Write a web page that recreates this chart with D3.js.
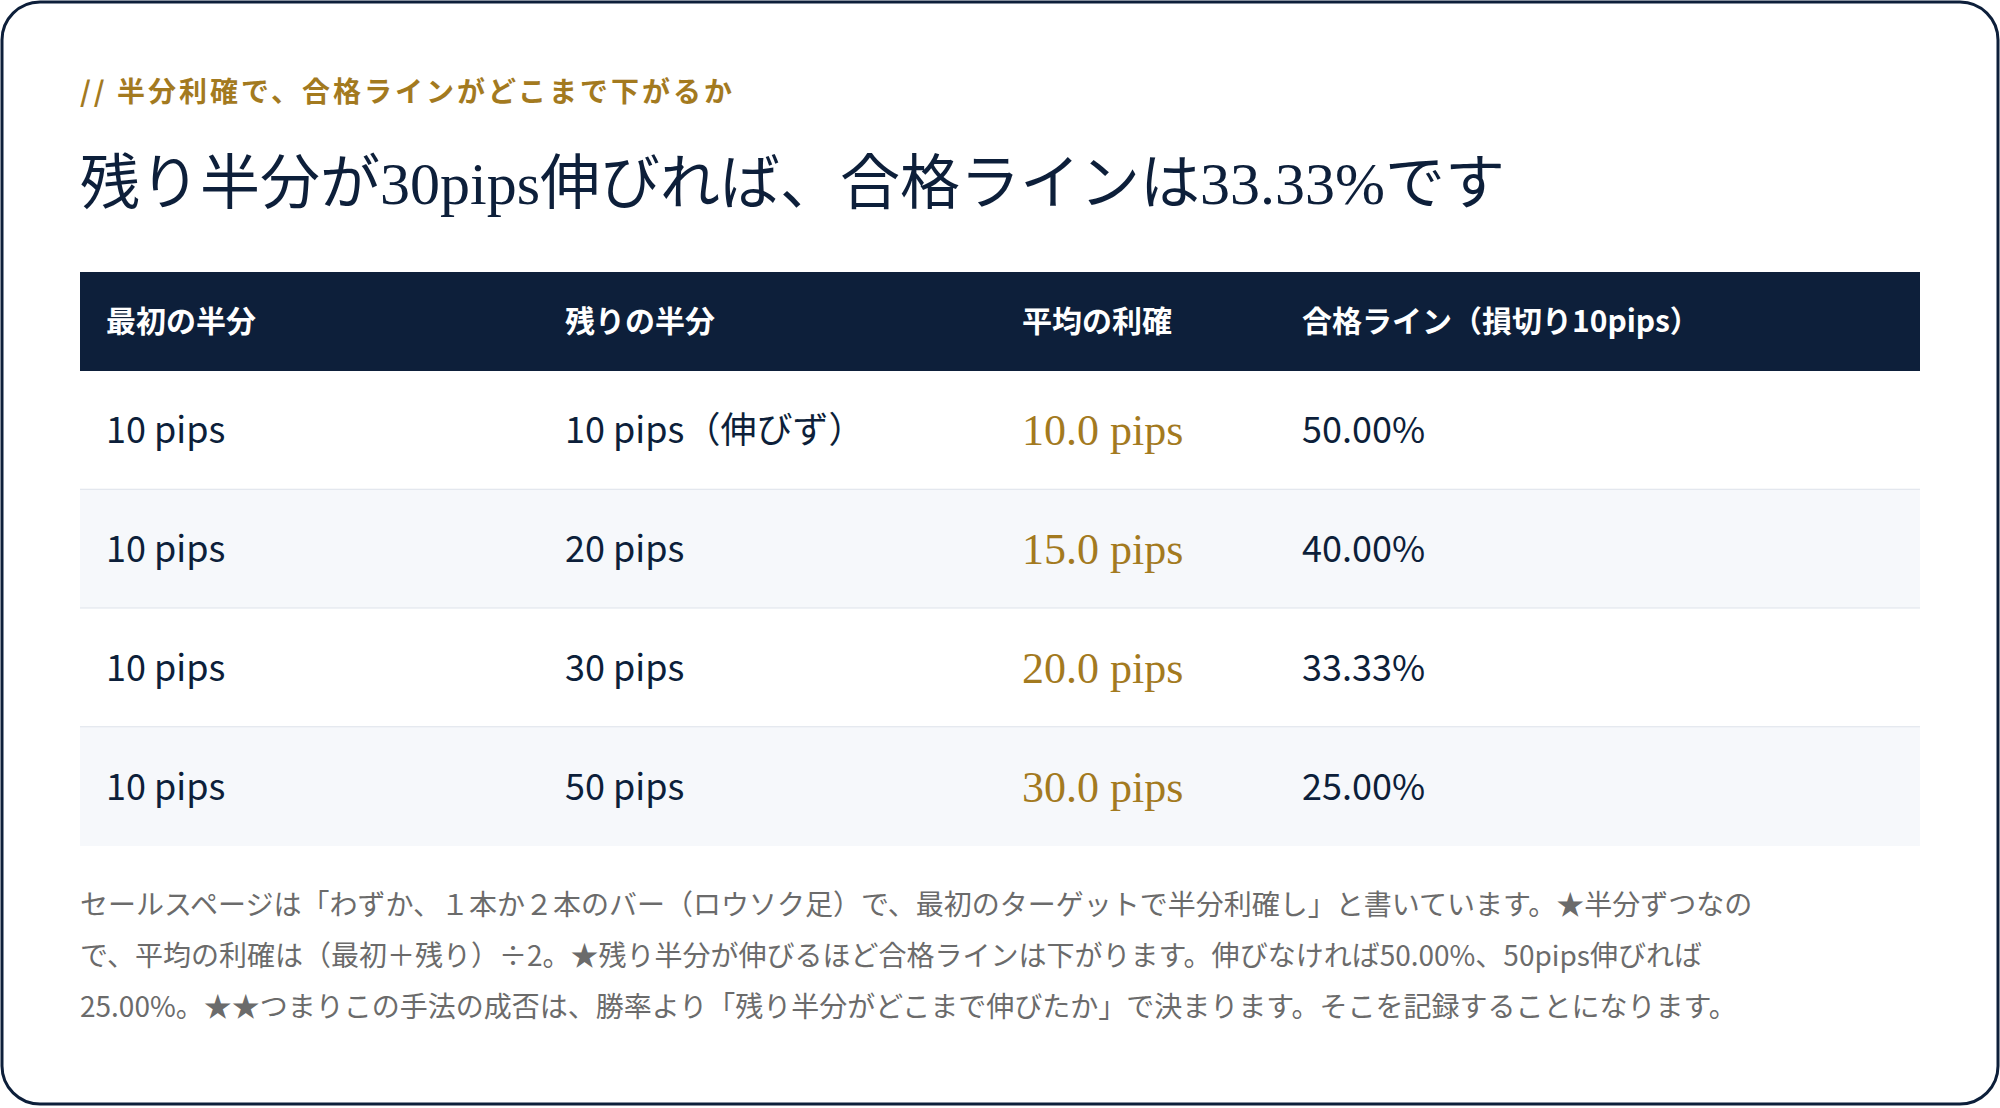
<!DOCTYPE html>
<html><head><meta charset="utf-8">
<script src="https://cdn.jsdelivr.net/npm/d3@7"></script>
<style>body{margin:0;background:#fff}</style>
</head><body>
<div id="chart"></div>
<script>
// table data
var headers = ["最初の半分", "残りの半分", "平均の利確", "合格ライン（損切り10pips）"];
var firstHalf = ["10 pips", "10 pips", "10 pips", "10 pips"];
var restHalf = ["10 pips（伸びず）", "20 pips", "30 pips", "50 pips"];
var avgProfit = [10.0, 15.0, 20.0, 30.0];
var passLine = [50.00, 40.00, 33.33, 25.00];
var eyebrow = "// 半分利確で、合格ラインがどこまで下がるか";
var title = "残り半分が30pips伸びれば、合格ラインは33.33%です";
var notes = [
  "セールスページは「わずか、１本か２本のバー（ロウソク足）で、最初のターゲットで半分利確し」と書いています。★半分ずつなの",
  "で、平均の利確は（最初＋残り）÷2。★残り半分が伸びるほど合格ラインは下がります。伸びなければ50.00%、50pips伸びれば",
  "25.00%。★★つまりこの手法の成否は、勝率より「残り半分がどこまで伸びたか」で決まります。そこを記録することになります。"
];

var W = 2000, H = 1108;
var navy = "#0d1f3a", gold = "#a37a1f";
var sans = "'Noto Sans CJK JP','Noto Sans',sans-serif";
var serif = "'Liberation Serif','DejaVu Serif','Noto Sans CJK JP',serif";

var svg = d3.select("#chart").append("svg").attr("width", W).attr("height", H);

svg.append("rect").attr("x", 2).attr("y", 2).attr("width", W - 4).attr("height", 1102)
  .attr("rx", 38).attr("fill", "#fff").attr("stroke", navy).attr("stroke-width", 3);

svg.append("text").attr("x", 80).attr("y", 102).attr("fill", gold)
  .attr("font-family", sans).attr("font-weight", 700).attr("font-size", 28)
  .attr("letter-spacing", 3).text(eyebrow);

svg.append("text").attr("x", 80).attr("y", 204).attr("fill", navy)
  .attr("font-family", serif).attr("font-size", 60).text(title);

// columns and rows
var x = d3.scaleOrdinal().domain(d3.range(4)).range([106, 565, 1022, 1302]);
var y = d3.scaleBand().domain(d3.range(avgProfit.length)).range([371, 846]);

svg.append("rect").attr("x", 80).attr("y", 272).attr("width", 1840).attr("height", 99).attr("fill", navy);
svg.selectAll(".hd").data(headers).enter().append("text")
  .attr("x", (d, i) => x(i)).attr("y", 332).attr("fill", "#fff")
  .attr("font-family", sans).attr("font-weight", 700).attr("font-size", 30).text(d => d);

var rows = svg.selectAll(".row").data(avgProfit).enter().append("g")
  .attr("transform", (d, i) => `translate(0,${y(i)})`);

rows.append("rect").attr("x", 80).attr("width", 1840).attr("height", y.bandwidth())
  .attr("fill", (d, i) => i % 2 ? "#f6f8fb" : "#fff");
rows.filter((d, i) => i < avgProfit.length - 1).append("line")
  .attr("x1", 80).attr("x2", 1920).attr("y1", y.bandwidth()).attr("y2", y.bandwidth())
  .attr("stroke", "#dde2ea").attr("stroke-width", 2);

var ty = y.bandwidth() / 2 + 13;
rows.append("text").attr("x", x(0)).attr("y", ty).attr("fill", navy)
  .attr("font-family", sans).attr("font-size", 36).text((d, i) => firstHalf[i]);
rows.append("text").attr("x", x(1)).attr("y", ty).attr("fill", navy)
  .attr("font-family", sans).attr("font-size", 36).text((d, i) => restHalf[i]);
rows.append("text").attr("x", x(2)).attr("y", ty + 2).attr("fill", gold)
  .attr("font-family", serif).attr("font-size", 44).text(d => d.toFixed(1) + " pips");
rows.append("text").attr("x", x(3)).attr("y", ty).attr("fill", navy)
  .attr("font-family", sans).attr("font-size", 36).text((d, i) => passLine[i].toFixed(2) + "%");

svg.selectAll(".note").data(notes).enter().append("text")
  .attr("x", 80).attr("y", (d, i) => 915 + i * 51).attr("fill", "#6b6b6b")
  .attr("font-family", sans).attr("font-size", 28).text(d => d);
</script>
</body></html>
